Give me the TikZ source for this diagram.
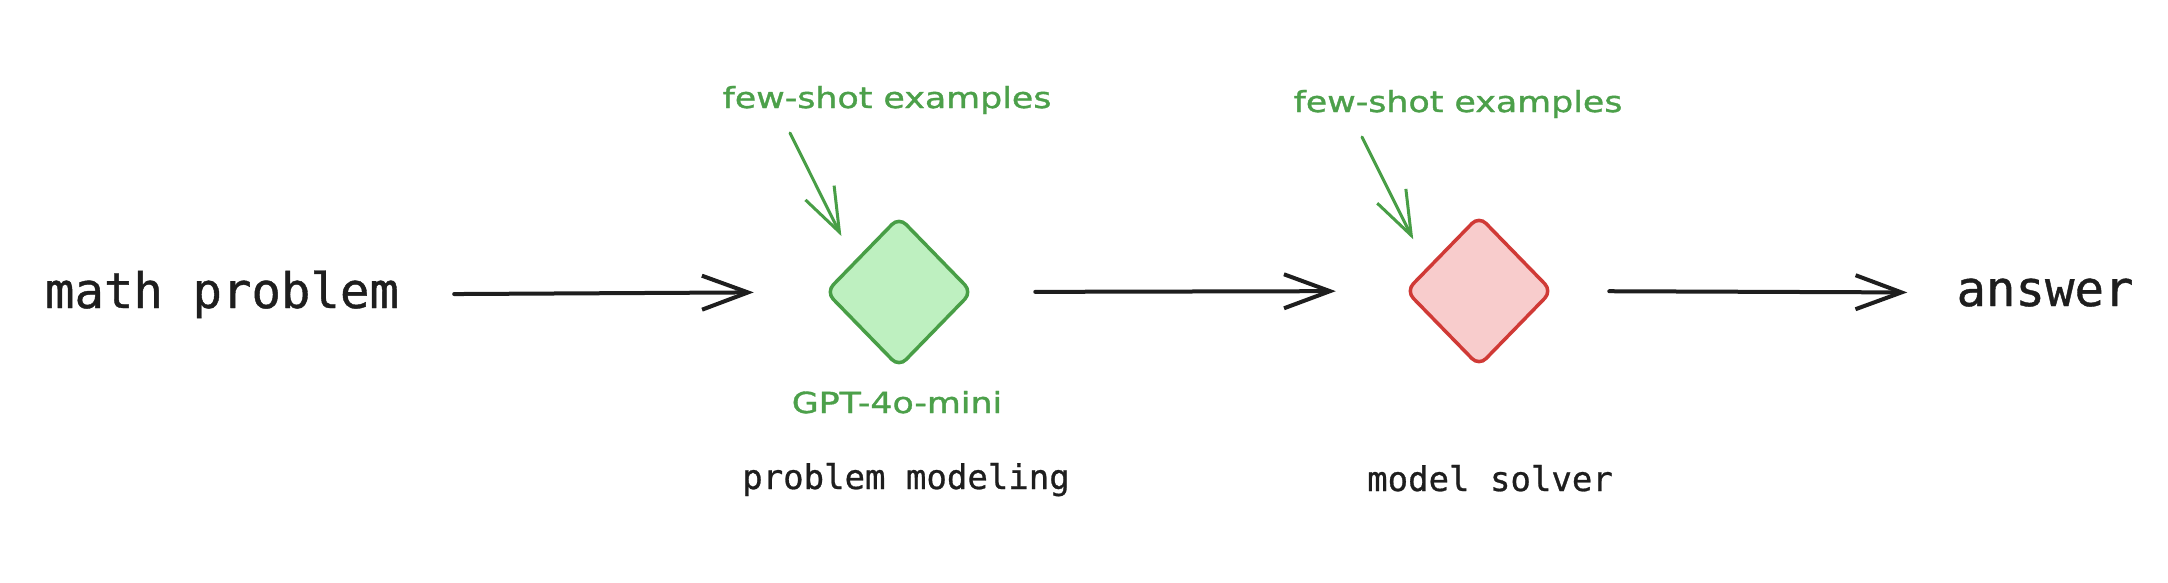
\documentclass[tikz,border=0pt]{standalone}
\usepackage{fontspec}
\newfontfamily\monofont[FakeBold=0.8]{DejaVu Sans Mono}
\newfontfamily\handfont[FakeStretch=1.2,FakeBold=1.2]{DejaVu Sans}
\usetikzlibrary{arrows.meta,shapes.geometric,calc}
\definecolor{gstroke}{RGB}{72,158,70}
\definecolor{gtext}{RGB}{76,160,74}
\definecolor{gfill}{RGB}{190,240,192}
\definecolor{rstroke}{RGB}{208,58,54}
\definecolor{rfill}{RGB}{248,204,204}
\definecolor{ink}{RGB}{30,30,30}
\begin{document}
\begin{tikzpicture}[x=1pt,y=-1pt,
  bigmono/.style={font=\monofont\fontsize{49}{58}\selectfont, text=ink, inner sep=0pt, anchor=base},
  smallmono/.style={font=\monofont\fontsize{34}{40}\selectfont, text=ink, inner sep=0pt, anchor=base},
  handtext/.style={font=\handfont\fontsize{29}{34}\selectfont, text=gtext, inner sep=0pt, anchor=base},
  dia/.style={diamond, minimum width=147pt, minimum height=151pt, inner sep=0pt, rounded corners=10pt, line width=3.5pt},
  arr/.style={draw=ink, line width=4pt, line cap=round, -{Straight Barb[length=46pt,width=34pt]}},
  garr/.style={draw=gstroke, line width=3pt, line cap=round, -{Straight Barb[length=44pt,width=32pt]}}
]
\useasboundingbox (0,0) rectangle (2168,582);
\fill[white] (0,0) rectangle (2168,582);

\node[bigmono] (mp) at (222,308) {math problem};
\node[bigmono] (ans) at (2045,306) {answer};

\node[dia, draw=gstroke, fill=gfill] (d1) at (899,292) {};
\node[dia, draw=rstroke, fill=rfill] (d2) at (1479,291) {};

\node[handtext] (fs1) at (887,108) {few-shot examples};
\node[handtext] (fs2) at (1458,112) {few-shot examples};
\node[handtext] (gpt) at (897,413) {GPT-4o-mini};

\node[smallmono] (pm) at (906,489) {problem modeling};
\node[smallmono] (ms) at (1490,491) {model solver};

\draw[arr, shorten <=55pt, shorten >=70pt] (mp.east) -- (d1.west);
\draw[arr, shorten <=61pt, shorten >=68pt] (d1.east) -- (d2.west);
\draw[arr, shorten <=55pt, shorten >=49pt] (d2.east) -- (ans.west);

\coordinate (g1s) at (790,133);
\coordinate (g2s) at (1362,137);
\draw[garr, shorten >=28pt] (g1s) -- ($(d1.north)!0.6!(d1.west)$);
\draw[garr, shorten >=31pt] (g2s) -- ($(d2.north)!0.69!(d2.west)$);
\end{tikzpicture}
\end{document}
